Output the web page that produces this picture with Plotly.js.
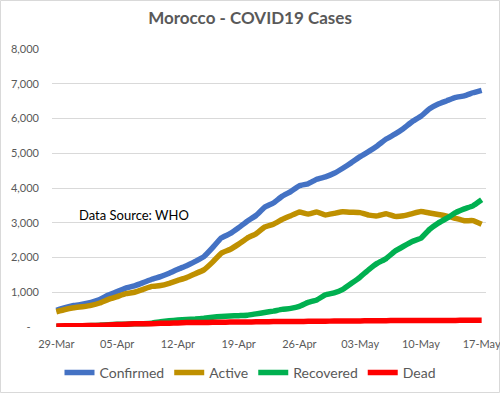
<!DOCTYPE html>
<html>
<head>
<meta charset="utf-8">
<script src="https://cdn.plot.ly/plotly-3.0.1.min.js"></script>
<style>
html,body{margin:0;padding:0;background:#fff;}
#chart{width:500px;height:393px;}
</style>
</head>
<body>
<div id="chart"></div>
<script>
var dates = ['29-Mar','30-Mar','31-Mar',
 '01-Apr','02-Apr','03-Apr','04-Apr','05-Apr','06-Apr','07-Apr','08-Apr','09-Apr','10-Apr',
 '11-Apr','12-Apr','13-Apr','14-Apr','15-Apr','16-Apr','17-Apr','18-Apr','19-Apr','20-Apr',
 '21-Apr','22-Apr','23-Apr','24-Apr','25-Apr','26-Apr','27-Apr','28-Apr','29-Apr','30-Apr',
 '01-May','02-May','03-May','04-May','05-May','06-May','07-May','08-May','09-May','10-May',
 '11-May','12-May','13-May','14-May','15-May','16-May','17-May'];

var confirmed = [479,556,617,654,708,791,919,1021,1120,1184,1275,1374,1448,1545,1661,1763,1888,2024,2283,2564,
 2685,2855,3046,3209,3446,3568,3758,3897,4065,4120,4252,4321,4423,4569,4729,4903,5053,5219,5408,5548,
 5711,5910,6063,6281,6418,6512,6607,6652,6741,6810];

var active = [438,503,552,584,624,691,795,875,959,1001,1085,1168,1192,1257,1340,1420,1533,1645,1867,2124,
 2230,2385,2561,2682,2877,2957,3093,3202,3311,3250,3309,3226,3269,3315,3300,3291,3219,3198,3257,3183,
 3201,3263,3321,3282,3239,3191,3125,3060,3062,2958];

var recovered = [15,20,29,31,40,52,65,76,81,93,97,109,149,177,203,217,229,249,281,303,
 314,327,340,378,417,456,507,536,593,708,778,927,984,1083,1256,1438,1653,1838,1968,2179,
 2324,2461,2554,2811,2991,3131,3292,3400,3487,3660];

var dead = [26,33,36,39,44,48,59,70,80,90,93,97,107,111,118,126,126,130,135,137,
 141,143,145,149,152,155,158,159,161,162,165,168,170,171,173,174,181,183,183,186,
 186,186,188,188,188,190,190,192,192,192];

var xTicks = ['29-Mar','05-Apr','12-Apr','19-Apr','26-Apr','03-May','10-May','17-May'];
var yTickVals = [0,1000,2000,3000,4000,5000,6000,7000,8000];
var yTickText = ['-\u00a0\u00a0\u00a0','1,000','2,000','3,000','4,000','5,000','6,000','7,000','8,000'];

var seriesNames = ['Confirmed','Active','Recovered','Dead'];
var seriesData = [confirmed, active, recovered, dead];
var colors = ['#4472C4','#BF9000','#00B050','#FF0000'];

var traces = seriesNames.map(function(n, k){
  return {
    x: dates, y: seriesData[k], name: n, type: 'scatter', mode: 'lines',
    line: {color: colors[k], width: 5.5, shape: 'spline', smoothing: 0.3},
    hoverinfo: 'skip'
  };
});

var L = 52, R = 14, T = 49, B = 66, W = 500, H = 393;
var pw = W - L - R, ph = H - T - B;

var layout = {
  width: W, height: H,
  margin: {l: L, r: R, t: T, b: B, pad: 0, autoexpand: false},
  paper_bgcolor: '#fff', plot_bgcolor: '#fff',
  font: {family: 'Lato, "Liberation Sans", sans-serif', color: '#595959', size: 11},
  title: {
    text: 'Morocco - COVID19 Cases',
    font: {family: 'Lato, sans-serif', size: 17, color: '#595959', weight: 'bold'},
    x: 0.5, xanchor: 'center', y: 1 - 18/H, yanchor: 'middle', xref: 'container'
  },
  xaxis: {
    type: 'category',
    range: [-0.5, dates.length - 0.5],
    tickmode: 'array', tickvals: xTicks, ticktext: xTicks,
    showgrid: false, zeroline: false,
    showline: false, ticks: '',
    tickfont: {size: 11, color: '#595959'},
    ticklabelstandoff: 9,
    fixedrange: true
  },
  yaxis: {
    range: [0, 8000],
    tickmode: 'array', tickvals: yTickVals, ticktext: yTickText,
    showgrid: true, gridcolor: '#d9d9d9', gridwidth: 1,
    zeroline: false, showline: false, ticks: '',
    tickfont: {size: 11, color: '#595959'},
    ticklabelstandoff: 12,
    fixedrange: true
  },
  legend: {
    orientation: 'h', xref: 'container', x: 0.5, xanchor: 'center',
    yref: 'container', y: 1 - 373 / H, yanchor: 'middle',
    font: {size: 14, color: '#595959'},
    itemwidth: 30, traceorder: 'normal',
    bgcolor: 'rgba(0,0,0,0)'
  },
  annotations: [{
    text: 'Data Source: WHO', xref: 'paper', yref: 'paper',
    x: (77 - L) / pw, xanchor: 'left',
    y: (H - B - 215) / ph, yanchor: 'middle',
    showarrow: false,
    font: {family: 'Lato, sans-serif', size: 13, color: '#000'}
  }],
  shapes: [{
    type: 'rect', xref: 'paper', yref: 'paper',
    x0: (0.5 - L) / pw, x1: (W - 0.5 - L) / pw,
    y0: (H - B - (H - 0.5)) / ph, y1: (H - B - 0.5) / ph,
    line: {color: '#d9d9d9', width: 1}, fillcolor: 'rgba(0,0,0,0)', layer: 'below'
  }],
  showlegend: true,
  hovermode: false
};

Plotly.newPlot('chart', traces, layout, {displayModeBar: false, staticPlot: true});
</script>
</body>
</html>
